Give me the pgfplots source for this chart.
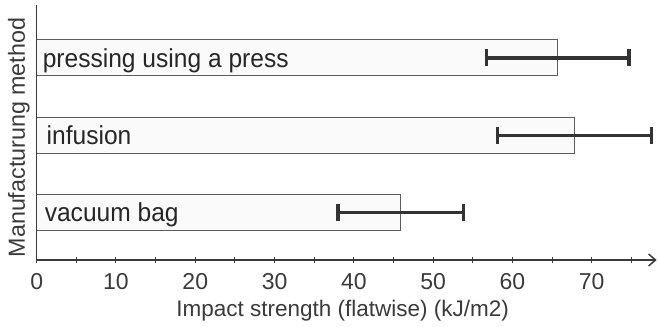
\documentclass[border=0pt]{standalone}
\usepackage{fontspec}
\setmainfont{Liberation Sans}
\newfontfamily\barfont[FakeStretch=0.945]{Liberation Sans}
\usepackage{pgfplots}
\pgfplotsset{compat=1.18}
\usetikzlibrary{arrows.meta}

\definecolor{axisgray}{HTML}{3A3A3A}
\definecolor{barline}{HTML}{5C5C5C}
\definecolor{barfill}{HTML}{FAFAFA}
\definecolor{errcol}{HTML}{333333}

\newcommand{\ticklabelfont}{\fontsize{23bp}{23bp}\selectfont}
\newcommand{\barlabelfont}{\barfont\fontsize{26bp}{26bp}\selectfont}
\newcommand{\xlabelfont}{\fontsize{22.5bp}{22.5bp}\selectfont}
\newcommand{\ylabelfont}{\fontsize{23.3bp}{23.3bp}\selectfont}

\begin{document}
\begin{tikzpicture}
\begin{axis}[
  at={(36.7bp,67bp)}, anchor=south west,
  scale only axis,
  width=620bp, height=255bp,
  xmin=0, xmax=78.2,
  ymin=0.385, ymax=3.686,
  axis on top,
  axis x line=bottom, axis y line=left,
  x axis line style={axisgray, line width=1.5bp, -{Straight Barb[length=7bp,width=12bp]}},
  y axis line style={axisgray, line width=1.5bp, -},
  xtick={0,10,...,70},
  minor xtick={5,15,...,75},
  tick align=center,
  major tick length=7bp, minor tick length=7bp,
  x tick style={axisgray, line width=1bp},
  /pgf/number format/assume math mode=true,
  xticklabel style={font=\ticklabelfont, text=axisgray, inner sep=0pt, anchor=base, yshift=-26bp},
  ytick={1,2,3},
  yticklabels={{\hspace{2bp}vacuum bag},{\hspace{3.9bp}infusion},{pressing using a press}},
  y tick style={draw=none},
  yticklabel style={font=\barlabelfont, text=black!85, inner sep=0pt, anchor=base west, xshift=9.4bp, yshift=-9.4bp},
  xlabel={Impact strength (flatwise) (kJ/m2)},
  xlabel style={font=\xlabelfont, text=axisgray, at={(rel axis cs:0.4934,0)}, anchor=base, yshift=-56bp},
  ylabel={Manufacturung method},
  ylabel style={font=\ylabelfont, text=axisgray, at={(rel axis cs:-0.01887,0.4804)}, anchor=base},
  clip=false,
]
% mean impact strength with symmetric scatter per manufacturing method
\addplot[
  xbar, bar width=0.466, draw=barline, fill=barfill, line width=1bp,
  error bars/.cd, x dir=both, x explicit,
  error bar style={line width=3.2bp, errcol},
  error mark options={rotate=90, line width=3.2bp, errcol, mark size=8.5bp},
] coordinates {
  (45.9,1) +- (7.9,0)
  (67.8,2) +- (9.7,0)
  (65.7,3) +- (9.0,0)
};
\end{axis}
\pgfresetboundingbox
\path (0,0) rectangle (658bp,327bp);
\end{tikzpicture}
\end{document}
